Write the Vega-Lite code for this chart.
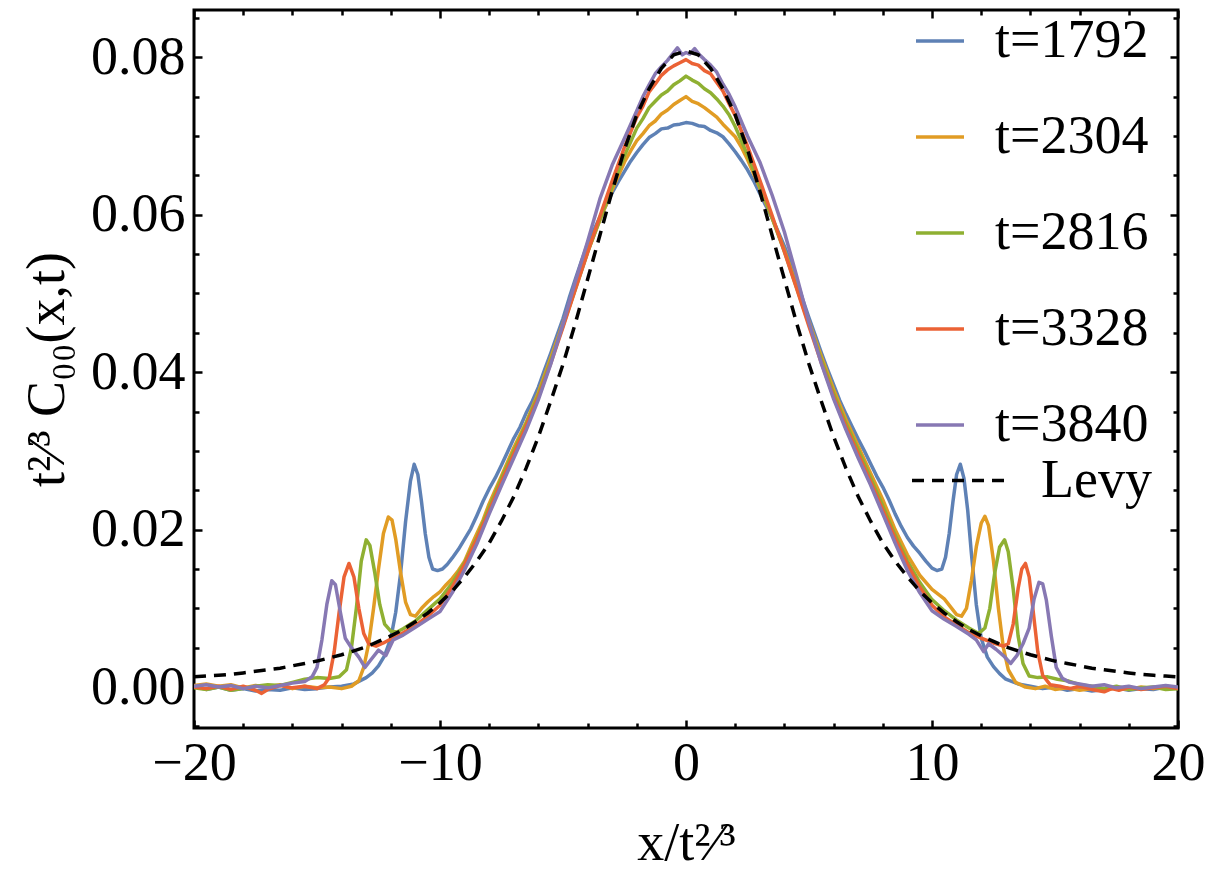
{
  "$schema": "https://vega.github.io/schema/vega-lite/v6.json",
  "width": 984,
  "height": 718,
  "autosize": {"type": "none"},
  "padding": {"left": 194, "top": 10, "right": 40, "bottom": 146},
  "background": "white",
  "datasets": {
    "curves": [
      {"s":"t=1792","x":-20,"y":0.0001},{"s":"t=1792","x":-19.5,"y":-0.0003},{"s":"t=1792","x":-19,"y":0.0000},{"s":"t=1792","x":-18.5,"y":-0.0004},{"s":"t=1792","x":-18,"y":-0.0002},{"s":"t=1792","x":-17.5,"y":-0.0005},{"s":"t=1792","x":-17,"y":-0.0003},{"s":"t=1792","x":-16.5,"y":-0.0004},{"s":"t=1792","x":-16,"y":-0.0001},{"s":"t=1792","x":-15.5,"y":-0.0003},{"s":"t=1792","x":-15,"y":-0.0002},{"s":"t=1792","x":-14.5,"y":0.0000},{"s":"t=1792","x":-14,"y":0.0001},{"s":"t=1792","x":-13.5,"y":0.0004},{"s":"t=1792","x":-13,"y":0.0012},{"s":"t=1792","x":-12.75,"y":0.0018},{"s":"t=1792","x":-12.5,"y":0.0027},{"s":"t=1792","x":-12.25,"y":0.0040},{"s":"t=1792","x":-12,"y":0.0062},{"s":"t=1792","x":-11.8,"y":0.0095},{"s":"t=1792","x":-11.6,"y":0.0145},{"s":"t=1792","x":-11.4,"y":0.0210},{"s":"t=1792","x":-11.2,"y":0.0262},{"s":"t=1792","x":-11.05,"y":0.0283},{"s":"t=1792","x":-10.9,"y":0.0270},{"s":"t=1792","x":-10.75,"y":0.0235},{"s":"t=1792","x":-10.6,"y":0.0195},{"s":"t=1792","x":-10.45,"y":0.0165},{"s":"t=1792","x":-10.3,"y":0.0150},{"s":"t=1792","x":-10.1,"y":0.0148},{"s":"t=1792","x":-9.9,"y":0.0150},{"s":"t=1792","x":-9.7,"y":0.0156},{"s":"t=1792","x":-9.5,"y":0.0164},{"s":"t=1792","x":-9.25,"y":0.0175},{"s":"t=1792","x":-9,"y":0.0188},{"s":"t=1792","x":-8.75,"y":0.0201},{"s":"t=1792","x":-8.5,"y":0.0218},{"s":"t=1792","x":-8.25,"y":0.0236},{"s":"t=1792","x":-8,"y":0.0252},{"s":"t=1792","x":-7.75,"y":0.0266},{"s":"t=1792","x":-7.5,"y":0.0282},{"s":"t=1792","x":-7.25,"y":0.0299},{"s":"t=1792","x":-7,"y":0.0316},{"s":"t=1792","x":-6.75,"y":0.0330},{"s":"t=1792","x":-6.5,"y":0.0348},{"s":"t=1792","x":-6.25,"y":0.0363},{"s":"t=1792","x":-6,"y":0.0381},{"s":"t=1792","x":-5.75,"y":0.0403},{"s":"t=1792","x":-5.5,"y":0.0424},{"s":"t=1792","x":-5.25,"y":0.0446},{"s":"t=1792","x":-5,"y":0.0468},{"s":"t=1792","x":-4.75,"y":0.0494},{"s":"t=1792","x":-4.5,"y":0.0518},{"s":"t=1792","x":-4.25,"y":0.0541},{"s":"t=1792","x":-4,"y":0.0563},{"s":"t=1792","x":-3.75,"y":0.0580},{"s":"t=1792","x":-3.5,"y":0.0597},{"s":"t=1792","x":-3.25,"y":0.0612},{"s":"t=1792","x":-3,"y":0.0628},{"s":"t=1792","x":-2.75,"y":0.0642},{"s":"t=1792","x":-2.5,"y":0.0655},{"s":"t=1792","x":-2.25,"y":0.0668},{"s":"t=1792","x":-2,"y":0.0679},{"s":"t=1792","x":-1.75,"y":0.0689},{"s":"t=1792","x":-1.5,"y":0.0698},{"s":"t=1792","x":-1.25,"y":0.0703},{"s":"t=1792","x":-1,"y":0.0709},{"s":"t=1792","x":-0.75,"y":0.0710},{"s":"t=1792","x":-0.5,"y":0.0714},{"s":"t=1792","x":-0.25,"y":0.0715},{"s":"t=1792","x":0,"y":0.0717},{"s":"t=1792","x":0.25,"y":0.0716},{"s":"t=1792","x":0.5,"y":0.0713},{"s":"t=1792","x":0.75,"y":0.0712},{"s":"t=1792","x":1,"y":0.0707},{"s":"t=1792","x":1.25,"y":0.0704},{"s":"t=1792","x":1.5,"y":0.0699},{"s":"t=1792","x":1.75,"y":0.0690},{"s":"t=1792","x":2,"y":0.0680},{"s":"t=1792","x":2.25,"y":0.0669},{"s":"t=1792","x":2.5,"y":0.0657},{"s":"t=1792","x":2.75,"y":0.0643},{"s":"t=1792","x":3,"y":0.0627},{"s":"t=1792","x":3.25,"y":0.0611},{"s":"t=1792","x":3.5,"y":0.0596},{"s":"t=1792","x":3.75,"y":0.0578},{"s":"t=1792","x":4,"y":0.0560},{"s":"t=1792","x":4.25,"y":0.0540},{"s":"t=1792","x":4.5,"y":0.0517},{"s":"t=1792","x":4.75,"y":0.0492},{"s":"t=1792","x":5,"y":0.0469},{"s":"t=1792","x":5.25,"y":0.0447},{"s":"t=1792","x":5.5,"y":0.0425},{"s":"t=1792","x":5.75,"y":0.0404},{"s":"t=1792","x":6,"y":0.0384},{"s":"t=1792","x":6.25,"y":0.0364},{"s":"t=1792","x":6.5,"y":0.0347},{"s":"t=1792","x":6.75,"y":0.0331},{"s":"t=1792","x":7,"y":0.0315},{"s":"t=1792","x":7.25,"y":0.0300},{"s":"t=1792","x":7.5,"y":0.0284},{"s":"t=1792","x":7.75,"y":0.0268},{"s":"t=1792","x":8,"y":0.0254},{"s":"t=1792","x":8.25,"y":0.0238},{"s":"t=1792","x":8.5,"y":0.0220},{"s":"t=1792","x":8.75,"y":0.0204},{"s":"t=1792","x":9,"y":0.0190},{"s":"t=1792","x":9.25,"y":0.0179},{"s":"t=1792","x":9.5,"y":0.0170},{"s":"t=1792","x":9.75,"y":0.0160},{"s":"t=1792","x":10,"y":0.0151},{"s":"t=1792","x":10.2,"y":0.0148},{"s":"t=1792","x":10.4,"y":0.0150},{"s":"t=1792","x":10.55,"y":0.0165},{"s":"t=1792","x":10.7,"y":0.0195},{"s":"t=1792","x":10.85,"y":0.0235},{"s":"t=1792","x":11,"y":0.0270},{"s":"t=1792","x":11.15,"y":0.0283},{"s":"t=1792","x":11.3,"y":0.0265},{"s":"t=1792","x":11.45,"y":0.0225},{"s":"t=1792","x":11.6,"y":0.0170},{"s":"t=1792","x":11.8,"y":0.0105},{"s":"t=1792","x":12,"y":0.0062},{"s":"t=1792","x":12.25,"y":0.0038},{"s":"t=1792","x":12.5,"y":0.0026},{"s":"t=1792","x":12.75,"y":0.0017},{"s":"t=1792","x":13,"y":0.0010},{"s":"t=1792","x":13.5,"y":0.0004},{"s":"t=1792","x":14,"y":0.0001},{"s":"t=1792","x":14.5,"y":-0.0002},{"s":"t=1792","x":15,"y":0.0000},{"s":"t=1792","x":15.5,"y":-0.0004},{"s":"t=1792","x":16,"y":-0.0002},{"s":"t=1792","x":16.5,"y":-0.0005},{"s":"t=1792","x":17,"y":-0.0003},{"s":"t=1792","x":17.5,"y":-0.0001},{"s":"t=1792","x":18,"y":-0.0004},{"s":"t=1792","x":18.5,"y":-0.0002},{"s":"t=1792","x":19,"y":-0.0003},{"s":"t=1792","x":19.5,"y":0.0000},{"s":"t=1792","x":20,"y":-0.0002},

      {"s":"t=2304","x":-20,"y":0.0002},{"s":"t=2304","x":-19.5,"y":0.0004},{"s":"t=2304","x":-19,"y":0.0001},{"s":"t=2304","x":-18.5,"y":0.0003},{"s":"t=2304","x":-18,"y":-0.0001},{"s":"t=2304","x":-17.5,"y":0.0002},{"s":"t=2304","x":-17,"y":0.0000},{"s":"t=2304","x":-16.5,"y":0.0003},{"s":"t=2304","x":-16,"y":-0.0002},{"s":"t=2304","x":-15.5,"y":0.0001},{"s":"t=2304","x":-15,"y":-0.0001},{"s":"t=2304","x":-14.5,"y":0.0000},{"s":"t=2304","x":-14,"y":-0.0002},{"s":"t=2304","x":-13.6,"y":0.0001},{"s":"t=2304","x":-13.3,"y":0.0008},{"s":"t=2304","x":-13.1,"y":0.0025},{"s":"t=2304","x":-12.9,"y":0.0055},{"s":"t=2304","x":-12.7,"y":0.0100},{"s":"t=2304","x":-12.5,"y":0.0150},{"s":"t=2304","x":-12.3,"y":0.0195},{"s":"t=2304","x":-12.1,"y":0.0216},{"s":"t=2304","x":-11.95,"y":0.0212},{"s":"t=2304","x":-11.8,"y":0.0188},{"s":"t=2304","x":-11.6,"y":0.0145},{"s":"t=2304","x":-11.4,"y":0.0108},{"s":"t=2304","x":-11.2,"y":0.0092},{"s":"t=2304","x":-11,"y":0.0090},{"s":"t=2304","x":-10.75,"y":0.0100},{"s":"t=2304","x":-10.5,"y":0.0108},{"s":"t=2304","x":-10.25,"y":0.0115},{"s":"t=2304","x":-10,"y":0.0121},{"s":"t=2304","x":-9.75,"y":0.0130},{"s":"t=2304","x":-9.5,"y":0.0138},{"s":"t=2304","x":-9.25,"y":0.0148},{"s":"t=2304","x":-9,"y":0.0160},{"s":"t=2304","x":-8.75,"y":0.0178},{"s":"t=2304","x":-8.5,"y":0.0195},{"s":"t=2304","x":-8.25,"y":0.0212},{"s":"t=2304","x":-8,"y":0.0233},{"s":"t=2304","x":-7.5,"y":0.0268},{"s":"t=2304","x":-7,"y":0.0304},{"s":"t=2304","x":-6.5,"y":0.0336},{"s":"t=2304","x":-6,"y":0.0374},{"s":"t=2304","x":-5.5,"y":0.0418},{"s":"t=2304","x":-5,"y":0.0462},{"s":"t=2304","x":-4.5,"y":0.0508},{"s":"t=2304","x":-4,"y":0.0553},{"s":"t=2304","x":-3.5,"y":0.0593},{"s":"t=2304","x":-3,"y":0.0632},{"s":"t=2304","x":-2.5,"y":0.0667},{"s":"t=2304","x":-2.25,"y":0.0681},{"s":"t=2304","x":-2,"y":0.0694},{"s":"t=2304","x":-1.75,"y":0.0703},{"s":"t=2304","x":-1.5,"y":0.0713},{"s":"t=2304","x":-1.25,"y":0.0719},{"s":"t=2304","x":-1,"y":0.0728},{"s":"t=2304","x":-0.75,"y":0.0733},{"s":"t=2304","x":-0.5,"y":0.0740},{"s":"t=2304","x":-0.25,"y":0.0745},{"s":"t=2304","x":0,"y":0.0750},{"s":"t=2304","x":0.25,"y":0.0744},{"s":"t=2304","x":0.5,"y":0.0741},{"s":"t=2304","x":0.75,"y":0.0736},{"s":"t=2304","x":1,"y":0.0730},{"s":"t=2304","x":1.25,"y":0.0724},{"s":"t=2304","x":1.5,"y":0.0715},{"s":"t=2304","x":1.75,"y":0.0707},{"s":"t=2304","x":2,"y":0.0699},{"s":"t=2304","x":2.25,"y":0.0686},{"s":"t=2304","x":2.5,"y":0.0670},{"s":"t=2304","x":3,"y":0.0634},{"s":"t=2304","x":3.5,"y":0.0596},{"s":"t=2304","x":4,"y":0.0555},{"s":"t=2304","x":4.5,"y":0.0510},{"s":"t=2304","x":5,"y":0.0464},{"s":"t=2304","x":5.5,"y":0.0420},{"s":"t=2304","x":6,"y":0.0378},{"s":"t=2304","x":6.5,"y":0.0340},{"s":"t=2304","x":7,"y":0.0306},{"s":"t=2304","x":7.5,"y":0.0272},{"s":"t=2304","x":8,"y":0.0238},{"s":"t=2304","x":8.5,"y":0.0200},{"s":"t=2304","x":9,"y":0.0168},{"s":"t=2304","x":9.5,"y":0.0142},{"s":"t=2304","x":10,"y":0.0124},{"s":"t=2304","x":10.5,"y":0.0112},{"s":"t=2304","x":10.8,"y":0.0100},{"s":"t=2304","x":11,"y":0.0092},{"s":"t=2304","x":11.2,"y":0.0090},{"s":"t=2304","x":11.4,"y":0.0100},{"s":"t=2304","x":11.6,"y":0.0135},{"s":"t=2304","x":11.8,"y":0.0178},{"s":"t=2304","x":12,"y":0.0208},{"s":"t=2304","x":12.15,"y":0.0217},{"s":"t=2304","x":12.3,"y":0.0205},{"s":"t=2304","x":12.5,"y":0.0160},{"s":"t=2304","x":12.7,"y":0.0100},{"s":"t=2304","x":12.9,"y":0.0050},{"s":"t=2304","x":13.1,"y":0.0022},{"s":"t=2304","x":13.4,"y":0.0006},{"s":"t=2304","x":13.8,"y":0.0000},{"s":"t=2304","x":14.2,"y":-0.0002},{"s":"t=2304","x":14.6,"y":0.0001},{"s":"t=2304","x":15,"y":-0.0003},{"s":"t=2304","x":15.5,"y":-0.0001},{"s":"t=2304","x":16,"y":-0.0004},{"s":"t=2304","x":16.5,"y":-0.0002},{"s":"t=2304","x":17,"y":-0.0004},{"s":"t=2304","x":17.5,"y":-0.0001},{"s":"t=2304","x":18,"y":-0.0003},{"s":"t=2304","x":18.5,"y":0.0000},{"s":"t=2304","x":19,"y":-0.0002},{"s":"t=2304","x":19.5,"y":0.0001},{"s":"t=2304","x":20,"y":-0.0001},

      {"s":"t=2816","x":-20,"y":-0.0001},{"s":"t=2816","x":-19.5,"y":-0.0003},{"s":"t=2816","x":-19,"y":0.0000},{"s":"t=2816","x":-18.5,"y":-0.0004},{"s":"t=2816","x":-18,"y":-0.0002},{"s":"t=2816","x":-17.5,"y":0.0001},{"s":"t=2816","x":-17,"y":0.0003},{"s":"t=2816","x":-16.5,"y":0.0002},{"s":"t=2816","x":-16,"y":0.0006},{"s":"t=2816","x":-15.5,"y":0.0010},{"s":"t=2816","x":-15,"y":0.0012},{"s":"t=2816","x":-14.5,"y":0.0011},{"s":"t=2816","x":-14.1,"y":0.0013},{"s":"t=2816","x":-13.8,"y":0.0022},{"s":"t=2816","x":-13.6,"y":0.0050},{"s":"t=2816","x":-13.4,"y":0.0100},{"s":"t=2816","x":-13.2,"y":0.0160},{"s":"t=2816","x":-13,"y":0.0187},{"s":"t=2816","x":-12.85,"y":0.0180},{"s":"t=2816","x":-12.65,"y":0.0145},{"s":"t=2816","x":-12.45,"y":0.0105},{"s":"t=2816","x":-12.25,"y":0.0080},{"s":"t=2816","x":-12,"y":0.0071},{"s":"t=2816","x":-11.75,"y":0.0070},{"s":"t=2816","x":-11.5,"y":0.0074},{"s":"t=2816","x":-11,"y":0.0084},{"s":"t=2816","x":-10.5,"y":0.0098},{"s":"t=2816","x":-10,"y":0.0112},{"s":"t=2816","x":-9.5,"y":0.0132},{"s":"t=2816","x":-9,"y":0.0158},{"s":"t=2816","x":-8.5,"y":0.0190},{"s":"t=2816","x":-8,"y":0.0228},{"s":"t=2816","x":-7.5,"y":0.0265},{"s":"t=2816","x":-7,"y":0.0300},{"s":"t=2816","x":-6.5,"y":0.0334},{"s":"t=2816","x":-6,"y":0.0371},{"s":"t=2816","x":-5.5,"y":0.0414},{"s":"t=2816","x":-5,"y":0.0459},{"s":"t=2816","x":-4.5,"y":0.0505},{"s":"t=2816","x":-4,"y":0.0552},{"s":"t=2816","x":-3.5,"y":0.0594},{"s":"t=2816","x":-3,"y":0.0636},{"s":"t=2816","x":-2.5,"y":0.0675},{"s":"t=2816","x":-2,"y":0.0710},{"s":"t=2816","x":-1.75,"y":0.0722},{"s":"t=2816","x":-1.5,"y":0.0736},{"s":"t=2816","x":-1.25,"y":0.0744},{"s":"t=2816","x":-1,"y":0.0752},{"s":"t=2816","x":-0.75,"y":0.0757},{"s":"t=2816","x":-0.5,"y":0.0765},{"s":"t=2816","x":-0.25,"y":0.0770},{"s":"t=2816","x":0,"y":0.0776},{"s":"t=2816","x":0.25,"y":0.0771},{"s":"t=2816","x":0.5,"y":0.0767},{"s":"t=2816","x":0.75,"y":0.0760},{"s":"t=2816","x":1,"y":0.0755},{"s":"t=2816","x":1.25,"y":0.0747},{"s":"t=2816","x":1.5,"y":0.0738},{"s":"t=2816","x":1.75,"y":0.0727},{"s":"t=2816","x":2,"y":0.0712},{"s":"t=2816","x":2.5,"y":0.0676},{"s":"t=2816","x":3,"y":0.0637},{"s":"t=2816","x":3.5,"y":0.0596},{"s":"t=2816","x":4,"y":0.0553},{"s":"t=2816","x":4.5,"y":0.0507},{"s":"t=2816","x":5,"y":0.0461},{"s":"t=2816","x":5.5,"y":0.0416},{"s":"t=2816","x":6,"y":0.0373},{"s":"t=2816","x":6.5,"y":0.0335},{"s":"t=2816","x":7,"y":0.0301},{"s":"t=2816","x":7.5,"y":0.0266},{"s":"t=2816","x":8,"y":0.0230},{"s":"t=2816","x":8.5,"y":0.0193},{"s":"t=2816","x":9,"y":0.0160},{"s":"t=2816","x":9.5,"y":0.0133},{"s":"t=2816","x":10,"y":0.0111},{"s":"t=2816","x":10.5,"y":0.0097},{"s":"t=2816","x":11,"y":0.0085},{"s":"t=2816","x":11.5,"y":0.0075},{"s":"t=2816","x":11.9,"y":0.0068},{"s":"t=2816","x":12.15,"y":0.0075},{"s":"t=2816","x":12.35,"y":0.0100},{"s":"t=2816","x":12.55,"y":0.0145},{"s":"t=2816","x":12.75,"y":0.0178},{"s":"t=2816","x":12.95,"y":0.0187},{"s":"t=2816","x":13.1,"y":0.0172},{"s":"t=2816","x":13.3,"y":0.0125},{"s":"t=2816","x":13.5,"y":0.0065},{"s":"t=2816","x":13.7,"y":0.0030},{"s":"t=2816","x":13.95,"y":0.0014},{"s":"t=2816","x":14.3,"y":0.0012},{"s":"t=2816","x":14.7,"y":0.0013},{"s":"t=2816","x":15.1,"y":0.0010},{"s":"t=2816","x":15.5,"y":0.0008},{"s":"t=2816","x":16,"y":0.0003},{"s":"t=2816","x":16.5,"y":0.0001},{"s":"t=2816","x":17,"y":-0.0002},{"s":"t=2816","x":17.5,"y":0.0001},{"s":"t=2816","x":18,"y":-0.0003},{"s":"t=2816","x":18.5,"y":-0.0001},{"s":"t=2816","x":19,"y":0.0000},{"s":"t=2816","x":19.5,"y":-0.0003},{"s":"t=2816","x":20,"y":-0.0002},

      {"s":"t=3328","x":-20,"y":0.0000},{"s":"t=3328","x":-19.5,"y":-0.0002},{"s":"t=3328","x":-19,"y":0.0001},{"s":"t=3328","x":-18.5,"y":-0.0003},{"s":"t=3328","x":-18,"y":0.0001},{"s":"t=3328","x":-17.5,"y":-0.0004},{"s":"t=3328","x":-17.25,"y":-0.0008},{"s":"t=3328","x":-17,"y":-0.0003},{"s":"t=3328","x":-16.5,"y":0.0002},{"s":"t=3328","x":-16,"y":-0.0001},{"s":"t=3328","x":-15.5,"y":0.0001},{"s":"t=3328","x":-15,"y":-0.0002},{"s":"t=3328","x":-14.7,"y":0.0003},{"s":"t=3328","x":-14.5,"y":0.0012},{"s":"t=3328","x":-14.3,"y":0.0045},{"s":"t=3328","x":-14.1,"y":0.0095},{"s":"t=3328","x":-13.9,"y":0.0140},{"s":"t=3328","x":-13.7,"y":0.0157},{"s":"t=3328","x":-13.5,"y":0.0140},{"s":"t=3328","x":-13.3,"y":0.0100},{"s":"t=3328","x":-13.1,"y":0.0068},{"s":"t=3328","x":-12.9,"y":0.0055},{"s":"t=3328","x":-12.6,"y":0.0052},{"s":"t=3328","x":-12.3,"y":0.0056},{"s":"t=3328","x":-12,"y":0.0061},{"s":"t=3328","x":-11.5,"y":0.0069},{"s":"t=3328","x":-11,"y":0.0078},{"s":"t=3328","x":-10.5,"y":0.0090},{"s":"t=3328","x":-10,"y":0.0104},{"s":"t=3328","x":-9.5,"y":0.0127},{"s":"t=3328","x":-9,"y":0.0156},{"s":"t=3328","x":-8.5,"y":0.0188},{"s":"t=3328","x":-8,"y":0.0224},{"s":"t=3328","x":-7.5,"y":0.0261},{"s":"t=3328","x":-7,"y":0.0296},{"s":"t=3328","x":-6.5,"y":0.0331},{"s":"t=3328","x":-6,"y":0.0368},{"s":"t=3328","x":-5.5,"y":0.0411},{"s":"t=3328","x":-5,"y":0.0457},{"s":"t=3328","x":-4.5,"y":0.0505},{"s":"t=3328","x":-4,"y":0.0552},{"s":"t=3328","x":-3.5,"y":0.0598},{"s":"t=3328","x":-3,"y":0.0643},{"s":"t=3328","x":-2.5,"y":0.0686},{"s":"t=3328","x":-2,"y":0.0724},{"s":"t=3328","x":-1.75,"y":0.0738},{"s":"t=3328","x":-1.5,"y":0.0756},{"s":"t=3328","x":-1.25,"y":0.0766},{"s":"t=3328","x":-1,"y":0.0777},{"s":"t=3328","x":-0.75,"y":0.0784},{"s":"t=3328","x":-0.5,"y":0.0789},{"s":"t=3328","x":-0.25,"y":0.0793},{"s":"t=3328","x":0,"y":0.0797},{"s":"t=3328","x":0.25,"y":0.0792},{"s":"t=3328","x":0.5,"y":0.0790},{"s":"t=3328","x":0.75,"y":0.0783},{"s":"t=3328","x":1,"y":0.0779},{"s":"t=3328","x":1.25,"y":0.0768},{"s":"t=3328","x":1.5,"y":0.0757},{"s":"t=3328","x":1.75,"y":0.0741},{"s":"t=3328","x":2,"y":0.0726},{"s":"t=3328","x":2.5,"y":0.0687},{"s":"t=3328","x":3,"y":0.0644},{"s":"t=3328","x":3.5,"y":0.0599},{"s":"t=3328","x":4,"y":0.0553},{"s":"t=3328","x":4.5,"y":0.0506},{"s":"t=3328","x":5,"y":0.0458},{"s":"t=3328","x":5.5,"y":0.0412},{"s":"t=3328","x":6,"y":0.0369},{"s":"t=3328","x":6.5,"y":0.0331},{"s":"t=3328","x":7,"y":0.0296},{"s":"t=3328","x":7.5,"y":0.0261},{"s":"t=3328","x":8,"y":0.0225},{"s":"t=3328","x":8.5,"y":0.0189},{"s":"t=3328","x":9,"y":0.0156},{"s":"t=3328","x":9.5,"y":0.0127},{"s":"t=3328","x":10,"y":0.0104},{"s":"t=3328","x":10.5,"y":0.0089},{"s":"t=3328","x":11,"y":0.0079},{"s":"t=3328","x":11.5,"y":0.0069},{"s":"t=3328","x":12,"y":0.0062},{"s":"t=3328","x":12.5,"y":0.0056},{"s":"t=3328","x":12.9,"y":0.0052},{"s":"t=3328","x":13.1,"y":0.0055},{"s":"t=3328","x":13.3,"y":0.0080},{"s":"t=3328","x":13.5,"y":0.0125},{"s":"t=3328","x":13.65,"y":0.0150},{"s":"t=3328","x":13.8,"y":0.0157},{"s":"t=3328","x":13.95,"y":0.0140},{"s":"t=3328","x":14.1,"y":0.0100},{"s":"t=3328","x":14.3,"y":0.0045},{"s":"t=3328","x":14.5,"y":0.0015},{"s":"t=3328","x":14.8,"y":0.0003},{"s":"t=3328","x":15.2,"y":0.0001},{"s":"t=3328","x":15.6,"y":-0.0002},{"s":"t=3328","x":16,"y":0.0001},{"s":"t=3328","x":16.5,"y":-0.0003},{"s":"t=3328","x":17,"y":-0.0006},{"s":"t=3328","x":17.3,"y":-0.0002},{"s":"t=3328","x":17.6,"y":-0.0004},{"s":"t=3328","x":18,"y":0.0000},{"s":"t=3328","x":18.5,"y":-0.0003},{"s":"t=3328","x":19,"y":-0.0001},{"s":"t=3328","x":19.5,"y":0.0001},{"s":"t=3328","x":20,"y":-0.0002},

      {"s":"t=3840","x":-20,"y":0.0001},{"s":"t=3840","x":-19.5,"y":0.0003},{"s":"t=3840","x":-19,"y":0.0000},{"s":"t=3840","x":-18.5,"y":0.0002},{"s":"t=3840","x":-18,"y":-0.0002},{"s":"t=3840","x":-17.5,"y":0.0001},{"s":"t=3840","x":-17,"y":-0.0001},{"s":"t=3840","x":-16.5,"y":0.0002},{"s":"t=3840","x":-16,"y":0.0005},{"s":"t=3840","x":-15.5,"y":0.0007},{"s":"t=3840","x":-15.2,"y":0.0013},{"s":"t=3840","x":-15,"y":0.0025},{"s":"t=3840","x":-14.8,"y":0.0060},{"s":"t=3840","x":-14.6,"y":0.0105},{"s":"t=3840","x":-14.4,"y":0.0135},{"s":"t=3840","x":-14.25,"y":0.0130},{"s":"t=3840","x":-14.05,"y":0.0095},{"s":"t=3840","x":-13.85,"y":0.0062},{"s":"t=3840","x":-13.6,"y":0.0050},{"s":"t=3840","x":-13.3,"y":0.0038},{"s":"t=3840","x":-13.05,"y":0.0025},{"s":"t=3840","x":-12.8,"y":0.0035},{"s":"t=3840","x":-12.5,"y":0.0047},{"s":"t=3840","x":-12.2,"y":0.0040},{"s":"t=3840","x":-11.9,"y":0.0060},{"s":"t=3840","x":-11.5,"y":0.0066},{"s":"t=3840","x":-11,"y":0.0076},{"s":"t=3840","x":-10.5,"y":0.0086},{"s":"t=3840","x":-10,"y":0.0096},{"s":"t=3840","x":-9.5,"y":0.0120},{"s":"t=3840","x":-9,"y":0.0149},{"s":"t=3840","x":-8.5,"y":0.0182},{"s":"t=3840","x":-8,"y":0.0220},{"s":"t=3840","x":-7.5,"y":0.0256},{"s":"t=3840","x":-7,"y":0.0291},{"s":"t=3840","x":-6.5,"y":0.0326},{"s":"t=3840","x":-6,"y":0.0365},{"s":"t=3840","x":-5.5,"y":0.0410},{"s":"t=3840","x":-5,"y":0.0461},{"s":"t=3840","x":-4.5,"y":0.0515},{"s":"t=3840","x":-4,"y":0.0566},{"s":"t=3840","x":-3.5,"y":0.0620},{"s":"t=3840","x":-3,"y":0.0663},{"s":"t=3840","x":-2.5,"y":0.0697},{"s":"t=3840","x":-2,"y":0.0732},{"s":"t=3840","x":-1.75,"y":0.0750},{"s":"t=3840","x":-1.5,"y":0.0765},{"s":"t=3840","x":-1.25,"y":0.0779},{"s":"t=3840","x":-1,"y":0.0788},{"s":"t=3840","x":-0.75,"y":0.0796},{"s":"t=3840","x":-0.5,"y":0.0806},{"s":"t=3840","x":-0.35,"y":0.0812},{"s":"t=3840","x":-0.15,"y":0.0803},{"s":"t=3840","x":0,"y":0.0806},{"s":"t=3840","x":0.15,"y":0.0804},{"s":"t=3840","x":0.35,"y":0.0811},{"s":"t=3840","x":0.55,"y":0.0803},{"s":"t=3840","x":0.75,"y":0.0797},{"s":"t=3840","x":1,"y":0.0790},{"s":"t=3840","x":1.25,"y":0.0781},{"s":"t=3840","x":1.5,"y":0.0766},{"s":"t=3840","x":1.75,"y":0.0753},{"s":"t=3840","x":2,"y":0.0737},{"s":"t=3840","x":2.5,"y":0.0700},{"s":"t=3840","x":3,"y":0.0667},{"s":"t=3840","x":3.5,"y":0.0625},{"s":"t=3840","x":4,"y":0.0578},{"s":"t=3840","x":4.5,"y":0.0522},{"s":"t=3840","x":5,"y":0.0463},{"s":"t=3840","x":5.5,"y":0.0411},{"s":"t=3840","x":6,"y":0.0366},{"s":"t=3840","x":6.5,"y":0.0327},{"s":"t=3840","x":7,"y":0.0291},{"s":"t=3840","x":7.5,"y":0.0257},{"s":"t=3840","x":8,"y":0.0220},{"s":"t=3840","x":8.5,"y":0.0183},{"s":"t=3840","x":9,"y":0.0148},{"s":"t=3840","x":9.5,"y":0.0120},{"s":"t=3840","x":10,"y":0.0097},{"s":"t=3840","x":10.5,"y":0.0086},{"s":"t=3840","x":11,"y":0.0077},{"s":"t=3840","x":11.5,"y":0.0067},{"s":"t=3840","x":11.8,"y":0.0060},{"s":"t=3840","x":12.1,"y":0.0045},{"s":"t=3840","x":12.3,"y":0.0055},{"s":"t=3840","x":12.6,"y":0.0048},{"s":"t=3840","x":12.9,"y":0.0040},{"s":"t=3840","x":13.2,"y":0.0030},{"s":"t=3840","x":13.45,"y":0.0040},{"s":"t=3840","x":13.7,"y":0.0055},{"s":"t=3840","x":13.95,"y":0.0075},{"s":"t=3840","x":14.15,"y":0.0112},{"s":"t=3840","x":14.35,"y":0.0133},{"s":"t=3840","x":14.5,"y":0.0131},{"s":"t=3840","x":14.65,"y":0.0110},{"s":"t=3840","x":14.85,"y":0.0065},{"s":"t=3840","x":15.05,"y":0.0025},{"s":"t=3840","x":15.3,"y":0.0011},{"s":"t=3840","x":15.6,"y":0.0006},{"s":"t=3840","x":16,"y":0.0004},{"s":"t=3840","x":16.5,"y":0.0001},{"s":"t=3840","x":17,"y":0.0003},{"s":"t=3840","x":17.5,"y":-0.0001},{"s":"t=3840","x":18,"y":0.0001},{"s":"t=3840","x":18.5,"y":-0.0002},{"s":"t=3840","x":19,"y":0.0000},{"s":"t=3840","x":19.5,"y":0.0002},{"s":"t=3840","x":20,"y":0.0000}
    ],
    "levy": [
      {"s":"Levy","x":-20,"y":0.0013},{"s":"Levy","x":-19.5,"y":0.0014},{"s":"Levy","x":-19,"y":0.0015},{"s":"Levy","x":-18.5,"y":0.0016},{"s":"Levy","x":-18,"y":0.0018},{"s":"Levy","x":-17.5,"y":0.0020},{"s":"Levy","x":-17,"y":0.0022},{"s":"Levy","x":-16.5,"y":0.0024},{"s":"Levy","x":-16,"y":0.0027},{"s":"Levy","x":-15.5,"y":0.0030},{"s":"Levy","x":-15,"y":0.0033},{"s":"Levy","x":-14.5,"y":0.0037},{"s":"Levy","x":-14,"y":0.0041},{"s":"Levy","x":-13.5,"y":0.0046},{"s":"Levy","x":-13,"y":0.0051},{"s":"Levy","x":-12.5,"y":0.0058},{"s":"Levy","x":-12,"y":0.0065},{"s":"Levy","x":-11.5,"y":0.0073},{"s":"Levy","x":-11,"y":0.0083},{"s":"Levy","x":-10.5,"y":0.0094},{"s":"Levy","x":-10,"y":0.0107},{"s":"Levy","x":-9.5,"y":0.0122},{"s":"Levy","x":-9,"y":0.0140},{"s":"Levy","x":-8.5,"y":0.0160},{"s":"Levy","x":-8,"y":0.0183},{"s":"Levy","x":-7.5,"y":0.0211},{"s":"Levy","x":-7,"y":0.0242},{"s":"Levy","x":-6.5,"y":0.0278},{"s":"Levy","x":-6,"y":0.0318},{"s":"Levy","x":-5.5,"y":0.0363},{"s":"Levy","x":-5,"y":0.0410},{"s":"Levy","x":-4.5,"y":0.0462},{"s":"Levy","x":-4,"y":0.0518},{"s":"Levy","x":-3.5,"y":0.0574},{"s":"Levy","x":-3,"y":0.0630},{"s":"Levy","x":-2.5,"y":0.0683},{"s":"Levy","x":-2,"y":0.0727},{"s":"Levy","x":-1.5,"y":0.0760},{"s":"Levy","x":-1,"y":0.0786},{"s":"Levy","x":-0.5,"y":0.0803},{"s":"Levy","x":0,"y":0.0808},{"s":"Levy","x":0.5,"y":0.0803},{"s":"Levy","x":1,"y":0.0786},{"s":"Levy","x":1.5,"y":0.0760},{"s":"Levy","x":2,"y":0.0727},{"s":"Levy","x":2.5,"y":0.0683},{"s":"Levy","x":3,"y":0.0630},{"s":"Levy","x":3.5,"y":0.0574},{"s":"Levy","x":4,"y":0.0518},{"s":"Levy","x":4.5,"y":0.0462},{"s":"Levy","x":5,"y":0.0410},{"s":"Levy","x":5.5,"y":0.0363},{"s":"Levy","x":6,"y":0.0318},{"s":"Levy","x":6.5,"y":0.0278},{"s":"Levy","x":7,"y":0.0242},{"s":"Levy","x":7.5,"y":0.0211},{"s":"Levy","x":8,"y":0.0183},{"s":"Levy","x":8.5,"y":0.0160},{"s":"Levy","x":9,"y":0.0140},{"s":"Levy","x":9.5,"y":0.0122},{"s":"Levy","x":10,"y":0.0107},{"s":"Levy","x":10.5,"y":0.0094},{"s":"Levy","x":11,"y":0.0083},{"s":"Levy","x":11.5,"y":0.0073},{"s":"Levy","x":12,"y":0.0065},{"s":"Levy","x":12.5,"y":0.0058},{"s":"Levy","x":13,"y":0.0051},{"s":"Levy","x":13.5,"y":0.0046},{"s":"Levy","x":14,"y":0.0041},{"s":"Levy","x":14.5,"y":0.0037},{"s":"Levy","x":15,"y":0.0033},{"s":"Levy","x":15.5,"y":0.0030},{"s":"Levy","x":16,"y":0.0027},{"s":"Levy","x":16.5,"y":0.0024},{"s":"Levy","x":17,"y":0.0022},{"s":"Levy","x":17.5,"y":0.0020},{"s":"Levy","x":18,"y":0.0018},{"s":"Levy","x":18.5,"y":0.0016},{"s":"Levy","x":19,"y":0.0015},{"s":"Levy","x":19.5,"y":0.0014},{"s":"Levy","x":20,"y":0.0013}
    ]
  },
  "resolve": {"axis": {"x": "independent", "y": "independent"}},
  "layer": [
    {
      "data": {"name": "curves"},
      "mark": {"type": "line", "strokeWidth": 3.5, "strokeJoin": "round", "clip": true},
      "encoding": {
        "x": {"field": "x", "type": "quantitative", "scale": {"domain": [-20, 20], "nice": false, "zero": false},
          "axis": {"orient": "bottom", "values": [-20, -10, 0, 10, 20], "ticks": false, "format": "d", "labelPadding": 8, "title": "x/t²⁄³", "titlePadding": 26}},
        "y": {"field": "y", "type": "quantitative", "scale": {"domain": [-0.0052, 0.086], "nice": false, "zero": false},
          "axis": {"orient": "left", "values": [0, 0.02, 0.04, 0.06, 0.08], "ticks": false, "format": ".2f", "labelPadding": 9, "title": "t²⁄³ C₀₀(x,t)", "titlePadding": 16}},
        "color": {"field": "s", "type": "nominal",
          "scale": {"domain": ["t=1792", "t=2304", "t=2816", "t=3328", "t=3840"], "range": ["#5E81B5", "#E19C24", "#8FB032", "#EB6235", "#8778B3"]},
          "legend": {"orient": "none", "legendX": 719, "legendY": 4, "title": null, "symbolType": "stroke", "symbolSize": 2304, "symbolStrokeWidth": 3.5, "labelOffset": 28, "rowPadding": 42}}
      }
    },
    {
      "data": {"name": "levy"},
      "mark": {"type": "line", "strokeWidth": 3.5, "color": "black", "clip": true},
      "encoding": {
        "x": {"field": "x", "type": "quantitative", "scale": {"domain": [-20, 20], "nice": false, "zero": false},
          "axis": {"orient": "bottom", "values": [-20, -10, 0, 10, 20], "labels": false, "tickSize": -8, "title": null}},
        "y": {"field": "y", "type": "quantitative", "scale": {"domain": [-0.0052, 0.086], "nice": false, "zero": false},
          "axis": {"orient": "left", "values": [0, 0.02, 0.04, 0.06, 0.08], "labels": false, "tickSize": -8, "title": null}},
        "strokeDash": {"field": "s", "type": "nominal", "scale": {"domain": ["Levy"], "range": [[12, 8]]},
          "legend": {"orient": "none", "legendX": 716, "legendY": 421, "title": null, "symbolType": "stroke", "symbolSize": 9025, "symbolStrokeWidth": 3.5, "symbolStrokeColor": "black", "labelOffset": 32}}
      }
    },
    {
      "data": {"name": "levy"},
      "mark": {"type": "line", "opacity": 0},
      "encoding": {
        "x": {"field": "x", "type": "quantitative", "scale": {"domain": [-20, 20], "nice": false, "zero": false},
          "axis": {"orient": "bottom", "values": [-18, -16, -14, -12, -8, -6, -4, -2, 2, 4, 6, 8, 12, 14, 16, 18], "labels": false, "tickSize": -5, "title": null}},
        "y": {"field": "y", "type": "quantitative", "scale": {"domain": [-0.0052, 0.086], "nice": false, "zero": false},
          "axis": {"orient": "left", "values": [-0.005, 0.005, 0.01, 0.015, 0.025, 0.03, 0.035, 0.045, 0.05, 0.055, 0.065, 0.07, 0.075, 0.085], "labels": false, "tickSize": -5, "title": null}}
      }
    },
    {
      "data": {"name": "levy"},
      "mark": {"type": "line", "opacity": 0},
      "encoding": {
        "x": {"field": "x", "type": "quantitative", "scale": {"domain": [-20, 20], "nice": false, "zero": false},
          "axis": {"orient": "top", "values": [-20, -10, 0, 10, 20], "labels": false, "tickSize": -8, "title": null}},
        "y": {"field": "y", "type": "quantitative", "scale": {"domain": [-0.0052, 0.086], "nice": false, "zero": false},
          "axis": {"orient": "right", "values": [0, 0.02, 0.04, 0.06, 0.08], "labels": false, "tickSize": -8, "title": null}}
      }
    },
    {
      "data": {"name": "levy"},
      "mark": {"type": "line", "opacity": 0},
      "encoding": {
        "x": {"field": "x", "type": "quantitative", "scale": {"domain": [-20, 20], "nice": false, "zero": false},
          "axis": {"orient": "top", "values": [-18, -16, -14, -12, -8, -6, -4, -2, 2, 4, 6, 8, 12, 14, 16, 18], "labels": false, "tickSize": -5, "title": null}},
        "y": {"field": "y", "type": "quantitative", "scale": {"domain": [-0.0052, 0.086], "nice": false, "zero": false},
          "axis": {"orient": "right", "values": [-0.005, 0.005, 0.01, 0.015, 0.025, 0.03, 0.035, 0.045, 0.05, 0.055, 0.065, 0.07, 0.075, 0.085], "labels": false, "tickSize": -5, "title": null}}
      }
    }
  ],
  "config": {
    "view": {"stroke": "black", "strokeWidth": 3},
    "axis": {
      "domain": false, "grid": false, "tickColor": "black", "tickWidth": 2.5, "zindex": 1,
      "labelFont": "Liberation Serif", "labelFontSize": 54, "labelColor": "black", "labelFlush": false, "labelOverlap": false,
      "titleFont": "Liberation Serif", "titleFontSize": 54, "titleFontWeight": "normal", "titleColor": "black"
    },
    "legend": {
      "padding": 0, "labelFont": "Liberation Serif", "labelFontSize": 54, "labelColor": "black", "labelLimit": 400
    }
  }
}
